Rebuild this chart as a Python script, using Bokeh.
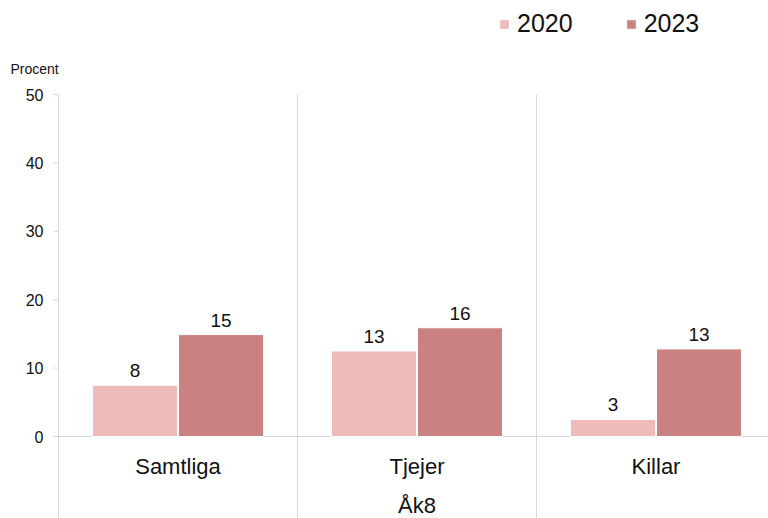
from bokeh.plotting import figure
from bokeh.models import Range1d, Legend, LegendItem, ColumnDataSource
from bokeh.transform import dodge
from bokeh.core.properties import value
from bokeh.embed import file_html
from bokeh.resources import INLINE

categories = ["Samtliga", "Tjejer", "Killar"]
group_label = "Åk8"
series_names = ["2020", "2023"]
values_2020 = [7.5, 12.5, 2.5]
values_2023 = [14.9, 15.9, 12.8]
y_ticks = [0, 10, 20, 30, 40, 50]
y_axis_title = "Procent"

FONT = "Liberation Sans"
C2020 = "#EFBBBA"
C2023 = "#C9827F"
GRAY = "#d9d9d9"
TXT = "#111111"

W, H = 768, 518
LEFT_PX, ZERO_PX = 58, 436       # page position of the value axis and of y = 0
PX_X, PX_Y = 239.0, 6.84          # pixels per category, pixels per percent
Y_LOW = -12.0

def lab(v):
    return str(int(v + 0.5))

n = len(categories)
src = ColumnDataSource(dict(
    x=[i + 0.5 for i in range(n)],
    cat=categories,
    v2020=values_2020,
    v2023=values_2023,
    l2020=[lab(v) for v in values_2020],
    l2023=[lab(v) for v in values_2023],
))

x_end = (W - LEFT_PX) / PX_X
p = figure(width=W, height=H,
           x_range=Range1d(-LEFT_PX / PX_X, x_end),
           y_range=Range1d(-(H - ZERO_PX) / PX_Y, ZERO_PX / PX_Y),
           x_axis_type=None, y_axis_type=None,
           output_backend="svg", toolbar_location=None,
           min_border=0, min_border_left=0, min_border_right=0,
           min_border_top=0, min_border_bottom=0)
p.outline_line_color = None
p.grid.visible = False
p.background_fill_color = "white"

y_top = max(y_ticks)

# value axis (drawn through the plot's scales)
p.segment(x0=[0], y0=[Y_LOW], x1=[0], y1=[y_top], line_color=GRAY, line_width=1)
p.segment(x0=[0] * len(y_ticks), y0=y_ticks, x1=[-5 / PX_X] * len(y_ticks), y1=y_ticks,
          line_color=GRAY, line_width=1)
p.text(x=[0] * len(y_ticks), y=y_ticks, text=[str(t) for t in y_ticks],
       x_offset=-15, text_align="right", text_baseline="middle",
       text_font=value(FONT), text_font_size="16px", text_color=TXT)
p.text(x=[0], y=[y_top], text=[y_axis_title], x_offset=-48, y_offset=-26,
       text_align="left", text_baseline="middle",
       text_font=value(FONT), text_font_size="14px", text_color=TXT)

# category separators and baseline
p.segment(x0=list(range(1, n)), y0=[Y_LOW] * (n - 1), x1=list(range(1, n)), y1=[y_top] * (n - 1),
          line_color=GRAY, line_width=1)
p.segment(x0=[0], y0=[0], x1=[x_end], y1=[0], line_color=GRAY, line_width=1)

off = 0.18
w = 0.356
r1 = p.vbar(x=dodge("x", -off, range=p.x_range), top="v2020", width=w, source=src,
            fill_color=C2020, line_color="white", line_width=1)
r2 = p.vbar(x=dodge("x", off, range=p.x_range), top="v2023", width=w, source=src,
            fill_color=C2023, line_color="white", line_width=1)

for key, lk, o in (("v2020", "l2020", -off), ("v2023", "l2023", off)):
    p.text(x=dodge("x", o, range=p.x_range), y=key, text=lk, source=src,
           text_align="center", text_baseline="bottom", y_offset=-8,
           text_font=value(FONT), text_font_size="19px", text_color=TXT)

p.text(x="x", y=0, text="cat", source=src, y_offset=30, text_align="center",
       text_baseline="middle", text_font=value(FONT), text_font_size="22px", text_color=TXT)
p.text(x=[n / 2], y=[0], text=[group_label], y_offset=69, text_align="center",
       text_baseline="middle", text_font=value(FONT), text_font_size="22px", text_color=TXT)

legend = Legend(items=[LegendItem(label=series_names[0], renderers=[r1]),
                       LegendItem(label=series_names[1], renderers=[r2])],
                orientation="horizontal", location=(498, 480),
                glyph_width=12, glyph_height=12, label_text_font=FONT,
                label_text_font_size="25px", label_text_color=TXT,
                spacing=52, label_standoff=7, padding=0, margin=0,
                border_line_color=None, background_fill_alpha=0)
p.add_layout(legend)

open("out.html", "w").write(file_html(p, INLINE))
